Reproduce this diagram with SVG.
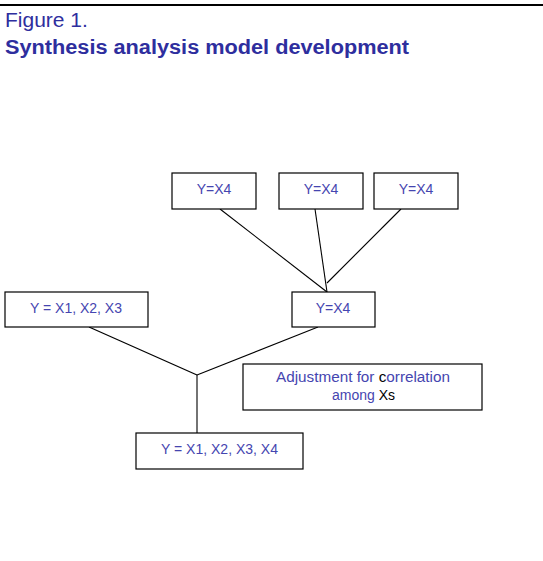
<svg xmlns="http://www.w3.org/2000/svg" width="543" height="561" viewBox="0 0 543 561">
<style>
.box{fill:#fff;stroke:#000;stroke-width:1.2}
.t{font-family:"Liberation Sans",Arial,sans-serif;font-size:14px;fill:#4545b0;text-anchor:middle}
.k{fill:#000}
.ln{stroke:#000;stroke-width:1.1;fill:none}
.title{font-family:"Liberation Sans",Arial,sans-serif;fill:#2e2e9e}
</style>
<rect width="543" height="561" fill="#fff"/>
<line x1="0" y1="5" x2="543" y2="5" stroke="#000" stroke-width="2"/>
<text class="title" x="5" y="27" font-size="21">Figure 1.</text>
<text class="title" x="5" y="54" font-size="20" font-weight="bold" textLength="404" lengthAdjust="spacingAndGlyphs">Synthesis analysis model development</text>
<g id="connectors">
<line class="ln" x1="220" y1="209" x2="327" y2="292"/>
<line class="ln" x1="315" y1="209" x2="327" y2="292"/>
<line class="ln" x1="401" y1="209" x2="327" y2="283"/>
<line class="ln" x1="89" y1="327" x2="197" y2="375"/>
<line class="ln" x1="318" y1="327" x2="197" y2="375"/>
<line class="ln" x1="197" y1="375" x2="197" y2="433" stroke="#444"/>
</g>
<g id="top1"><rect class="box" x="172" y="173" width="84" height="36"/><text class="t" x="214" y="194">Y=X4</text></g>
<g id="top2"><rect class="box" x="279" y="173" width="84" height="36"/><text class="t" x="321" y="194">Y=X4</text></g>
<g id="top3"><rect class="box" x="374" y="173" width="84" height="36"/><text class="t" x="416" y="194">Y=X4</text></g>
<g id="mid"><rect class="box" x="292" y="292" width="83" height="35"/><text class="t" x="333" y="313">Y=X4</text></g>
<g id="left"><rect class="box" x="5" y="292" width="143" height="35"/><text class="t" x="76" y="313">Y = X1, X2, X3</text></g>
<g id="adjust"><rect class="box" x="243" y="364" width="239" height="46"/><text class="t" x="363" y="382" textLength="174" lengthAdjust="spacingAndGlyphs">Adjustment for <tspan class="k">c</tspan>orrelation</text><text class="t" x="363.5" y="400">among <tspan class="k">Xs</tspan></text></g>
<g id="bottom"><rect class="box" x="136" y="433" width="167" height="36"/><text class="t" x="219.5" y="454">Y = X1, X2, X3, X4</text></g>
</svg>
